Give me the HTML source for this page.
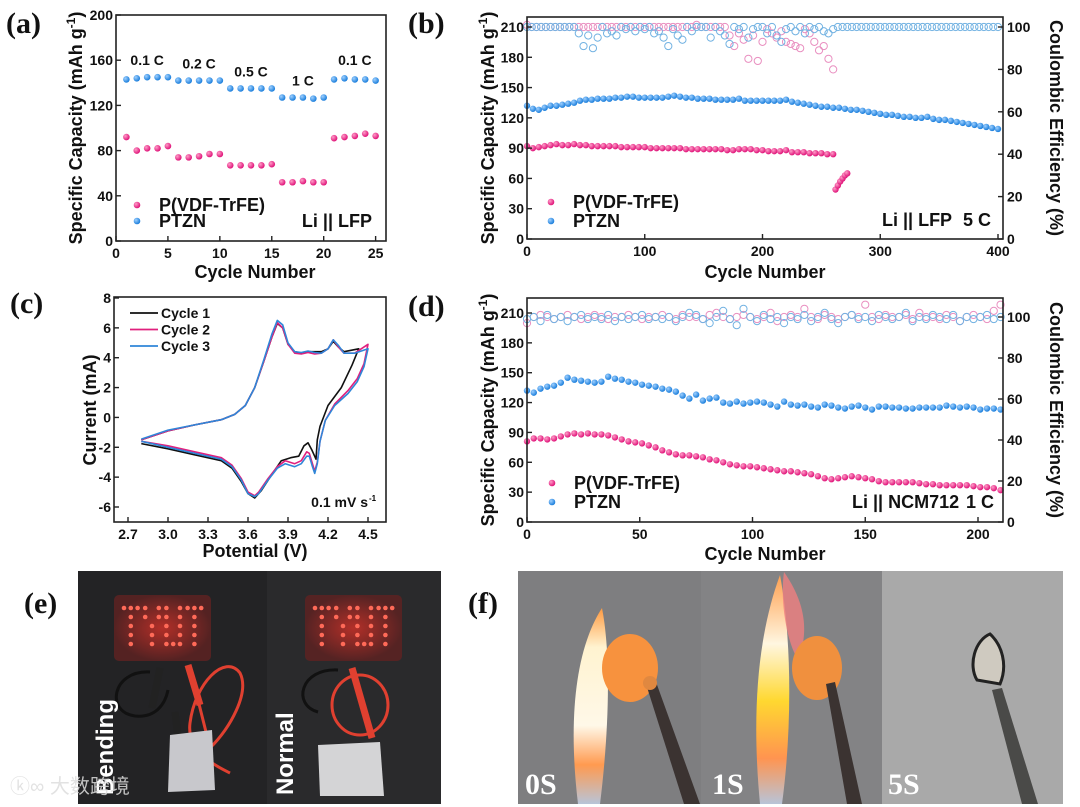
<!DOCTYPE html>
<html><head><meta charset="utf-8">
<style>
html,body{margin:0;padding:0;background:#fff;}
svg{display:block;font-family:"Liberation Sans",sans-serif;}
.tk{font-size:14px;font-weight:bold;fill:#111;}
.ttl{font-size:18px;font-weight:bold;fill:#111;}
.lab{font-family:"Liberation Serif",serif;font-size:30px;font-weight:bold;fill:#111;}
.ann{font-size:14px;font-weight:bold;fill:#111;}
</style></head>
<body>
<svg id="fig" width="1080" height="807" viewBox="0 0 1080 807">
<defs>
<radialGradient id="gp" cx="35%" cy="35%" r="65%"><stop offset="0" stop-color="#ff9cc8"/><stop offset="1" stop-color="#e0157a"/></radialGradient>
<radialGradient id="gb" cx="35%" cy="35%" r="65%"><stop offset="0" stop-color="#9fd0ff"/><stop offset="1" stop-color="#1c7fdc"/></radialGradient>
<linearGradient id="flame" x1="0" y1="0" x2="0" y2="1"><stop offset="0" stop-color="#ff9a40"/><stop offset="0.2" stop-color="#fff3d0"/><stop offset="0.6" stop-color="#fff8e8"/><stop offset="0.8" stop-color="#ff9a50"/><stop offset="1" stop-color="#b8c4d8"/></linearGradient>
<linearGradient id="flame2" x1="0" y1="0" x2="0" y2="1"><stop offset="0" stop-color="#ffa050"/><stop offset="0.3" stop-color="#fff6e0"/><stop offset="0.55" stop-color="#ffd830"/><stop offset="0.8" stop-color="#ff9450"/><stop offset="1" stop-color="#b8c4d8"/></linearGradient>
<radialGradient id="glow"><stop offset="0" stop-color="#c23028" stop-opacity="0.9"/><stop offset="1" stop-color="#5a2222" stop-opacity="0.9"/></radialGradient>
</defs>
<g id="charts"></g>
<text class="lab" x="6" y="33">(a)</text>
<text class="lab" x="408" y="33">(b)</text>
<text class="lab" x="10" y="313">(c)</text>
<text class="lab" x="408" y="316">(d)</text>
<text class="lab" x="24" y="613">(e)</text>
<text class="lab" x="468" y="613">(f)</text>

<!-- panel e photo -->
<g>
<rect x="78" y="571" width="363" height="233" fill="#232325"/>
<rect x="267" y="571" width="174" height="233" fill="#2a2a2c"/>
<rect x="114" y="595" width="97" height="66" rx="5" fill="url(#glow)"/>
<rect x="305" y="595" width="97" height="66" rx="5" fill="url(#glow)"/>
<g id="leds"></g>
<path d="M150 672 C112 670 105 712 135 716 C155 718 165 705 168 690" stroke="#111" stroke-width="3" fill="none"/>
<path d="M160 668 l-8 40" stroke="#222" stroke-width="7"/>
<path d="M175 712 l6 50" stroke="#222" stroke-width="7"/>
<path d="M190 668 l20 80 c20 -20 40 -55 30 -75 c-15 -20 -45 10 -50 50 c-4 30 30 45 40 50" stroke="#e04030" stroke-width="3" fill="none"/>
<path d="M188 665 l12 40" stroke="#e04030" stroke-width="7"/>
<polygon points="170,735 212,730 215,790 168,792" fill="#c8c8cc"/>
<path d="M338 670 C300 668 292 705 318 712" stroke="#111" stroke-width="3" fill="none"/>
<ellipse cx="360" cy="705" rx="28" ry="30" stroke="#e04030" stroke-width="3" fill="none"/>
<path d="M352 668 l20 70" stroke="#e04030" stroke-width="7"/>
<polygon points="318,745 380,742 384,796 320,796" fill="#d4d4d6"/>
<text x="0" y="0" transform="translate(113,795) rotate(-90)" font-size="24" font-weight="bold" fill="#fff">Bending</text>
<text x="0" y="0" transform="translate(293,795) rotate(-90)" font-size="24" font-weight="bold" fill="#fff">Normal</text>
<text x="10" y="793" font-family="'Liberation Sans','Noto Sans CJK SC',sans-serif" font-size="20" fill="#ddd" opacity="0.85">ⓚ∞ 大数跨境</text>
</g>

<!-- panel f photo -->
<g>
<rect x="518" y="571" width="183" height="233" fill="#7e7e80"/>
<rect x="701" y="571" width="181" height="233" fill="#838385"/>
<rect x="882" y="571" width="181" height="233" fill="#a9a9a9"/>
<path d="M578 804 C568 720 575 650 602 608 C612 660 608 740 600 804 Z" fill="url(#flame)"/>
<ellipse cx="630" cy="668" rx="28" ry="34" fill="#f7923e"/>
<polygon points="646,684 656,682 700,804 684,804" fill="#3b3331"/>
<circle cx="650" cy="683" r="7" fill="#e08840"/>
<path d="M760 804 C752 720 756 640 780 575 C792 640 792 730 782 804 Z" fill="url(#flame2)"/>
<path d="M784 572 C800 595 812 625 798 660 C786 640 780 600 784 572Z" fill="#f08080" opacity="0.8"/>
<ellipse cx="817" cy="668" rx="25" ry="32" fill="#f0903e"/>
<polygon points="826,684 835,682 862,804 847,804" fill="#3b3331"/>
<path d="M977 680 C968 665 975 640 990 634 C1002 645 1008 665 1000 684Z" fill="#cfcac0" stroke="#222" stroke-width="3"/>
<polygon points="992,690 1002,688 1038,804 1022,804" fill="#4a4a48"/>
<text x="525" y="794" font-family="'Liberation Serif',serif" font-size="30" font-weight="bold" fill="#fff">0S</text>
<text x="712" y="794" font-family="'Liberation Serif',serif" font-size="30" font-weight="bold" fill="#fff">1S</text>
<text x="888" y="794" font-family="'Liberation Serif',serif" font-size="30" font-weight="bold" fill="#fff">5S</text>
</g>
</svg>
<script>
// ---------- DATA ----------
const aCycles = [1,2,3,4,5,6,7,8,9,10,11,12,13,14,15,16,17,18,19,20,21,22,23,24,25];
const aPVDF = [92,80,82,82,84,74,74,75,77,77,67,67,67,67,68,52,52,53,52,52,91,92,93,95,93];
const aPTZN = [143,144,145,145,145,142,142,142,142,142,135,135,135,135,135,127,127,127,126,127,143,144,143,143,142];
const aRates = ["0.1 C","0.2 C","0.5 C","1 C","0.1 C"];
const aRateCycle = [3,8,13,18,23];
const aRateVal = [160,157,150,142,160];
const aXTicks = [0,5,10,15,20,25];
const aYTicks = [0,40,80,120,160,200];
const bPTZN = [132,129,128,130,132,132,133,134,135,137,138,138,139,139,139,140,140,141,141,140,140,140,140,140,141,142,141,140,140,139,139,139,138,138,138,138,139,137,137,137,137,137,137,137,138,136,135,134,133,132,131,131,130,130,129,128,128,127,126,125,124,123,123,122,121,121,120,120,121,119,118,118,117,116,115,114,113,112,111,110,109];
const bPVDF = [92,90,91,92,93,94,93,93,94,93,93,92,92,92,92,92,91,91,91,91,91,90,90,90,90,90,90,89,89,89,89,89,89,89,88,88,89,89,89,88,88,87,87,87,88,86,86,86,85,85,85,84,84];
const bPVDFTailCycles = [262,264,266,268,270,272];
const bPVDFTail = [49,53,57,60,63,65];
const bCEPTZN = [100,100,100,100,100,100,100,100,100,100,100,97,91,96,90,95,100,97,98,96,100,99,100,98,100,99,100,97,98,95,91,99,96,94,100,98,100,100,100,95,100,98,96,92,100,99,100,95,99,100,100,97,100,96,93,99,100,98,100,97,100,99,100,98,97,99,100,100,100,100,100,100,100,100,100,100,100,100,100,100,100,100,100,100,100,100,100,100,100,100,100,100,100,100,100,100,100,100,100,100,100];
const bCEPVDF = [101,100,100,100,100,100,100,100,100,100,100,100,100,100,100,100,100,100,100,100,100,100,100,100,100,100,100,100,100,100,100,100,100,100,100,100,101,100,100,100,100,100,100,96,91,97,94,85,96,84,93,99,97,95,98,93,92,91,90,99,97,93,89,91,85,80];
const bXTicks = [0,100,200,300,400];
const bYTicks = [0,30,60,90,120,150,180,210];
const bY2Ticks = [0,20,40,60,80,100];
const cCycle1 = [[2.8,-1.5],[3.0,-0.9],[3.2,-0.5],[3.4,-0.15],[3.5,0.2],[3.58,0.8],[3.65,2.0],[3.72,3.8],[3.78,5.4],[3.82,6.3],[3.86,6.0],[3.9,4.9],[3.95,4.4],[4.0,4.3],[4.05,4.4],[4.1,4.4],[4.15,4.4],[4.2,4.6],[4.24,5.1],[4.28,4.7],[4.32,4.4],[4.43,4.6],[4.38,3.5],[4.3,2.0],[4.2,0.8],[4.14,-0.6],[4.12,-1.5],[4.11,-2.8],[4.08,-2.2],[4.05,-1.7],[4.02,-1.9],[3.98,-2.6],[3.92,-2.7],[3.85,-2.9],[3.78,-3.8],[3.7,-4.9],[3.65,-5.4],[3.6,-5.1],[3.55,-4.3],[3.48,-3.4],[3.4,-2.9],[3.2,-2.5],[3.0,-2.1],[2.8,-1.75]];
const cCycle2 = [[2.8,-1.5],[3.0,-0.9],[3.2,-0.5],[3.4,-0.15],[3.5,0.2],[3.58,0.8],[3.65,2.0],[3.72,3.8],[3.78,5.4],[3.82,6.35],[3.86,6.0],[3.9,4.9],[3.95,4.3],[4.0,4.25],[4.05,4.35],[4.1,4.25],[4.15,4.3],[4.2,4.6],[4.24,5.2],[4.28,4.7],[4.32,4.3],[4.4,4.3],[4.5,4.9],[4.47,3.6],[4.42,2.6],[4.35,1.8],[4.25,0.9],[4.18,-0.2],[4.14,-1.6],[4.12,-3.0],[4.1,-3.6],[4.08,-3.0],[4.06,-2.4],[4.04,-2.3],[4.0,-2.9],[3.95,-3.1],[3.88,-2.9],[3.82,-3.3],[3.75,-4.1],[3.68,-5.0],[3.65,-5.25],[3.6,-5.0],[3.55,-4.1],[3.48,-3.2],[3.4,-2.7],[3.2,-2.3],[3.0,-1.9],[2.8,-1.6]];
const cCycle3 = [[2.8,-1.45],[3.0,-0.85],[3.2,-0.5],[3.4,-0.15],[3.5,0.2],[3.58,0.8],[3.65,2.0],[3.72,3.9],[3.78,5.6],[3.82,6.5],[3.86,6.2],[3.9,5.0],[3.95,4.4],[4.0,4.35],[4.05,4.45],[4.1,4.35],[4.15,4.3],[4.2,4.6],[4.24,5.2],[4.28,4.8],[4.32,4.3],[4.4,4.3],[4.5,4.6],[4.47,3.4],[4.42,2.4],[4.35,1.6],[4.25,0.8],[4.18,-0.2],[4.14,-1.6],[4.12,-3.1],[4.1,-3.75],[4.08,-3.2],[4.06,-2.6],[4.04,-2.6],[4.0,-3.1],[3.95,-3.3],[3.88,-3.1],[3.82,-3.4],[3.75,-4.2],[3.68,-5.1],[3.65,-5.3],[3.6,-5.1],[3.55,-4.2],[3.48,-3.3],[3.4,-2.8],[3.2,-2.4],[3.0,-2.0],[2.8,-1.6]];
const cXTicks = [2.7,3.0,3.3,3.6,3.9,4.2,4.5];
const cYTicks = [-6,-4,-2,0,2,4,6,8];
const dPTZN = [132,130,134,136,137,140,145,143,142,141,140,141,146,144,143,141,140,138,137,136,134,133,131,127,124,128,122,124,125,120,119,121,119,120,121,120,118,116,121,118,117,118,116,115,118,117,115,114,116,117,115,113,116,116,115,115,114,114,115,115,115,115,117,116,115,116,115,113,114,114,113];
const dPVDF = [81,84,84,83,84,86,88,89,88,89,88,88,87,85,83,81,80,79,77,75,72,70,68,67,67,66,65,63,62,60,58,57,56,56,55,54,53,52,51,51,50,49,48,46,44,43,44,45,46,45,44,43,41,40,40,40,40,40,39,38,38,37,37,37,37,37,36,35,35,34,32];
const dCEPTZN = [99,100,98,101,99,100,98,100,101,99,100,99,101,98,100,99,100,101,99,100,99,100,98,100,102,101,99,97,100,103,99,96,104,100,98,101,99,100,97,100,99,101,98,100,102,99,97,100,101,99,100,98,101,100,99,100,102,98,100,99,101,100,99,101,98,100,99,100,101,99,100];
const dCEPVDF = [97,100,101,100,99,100,101,100,99,100,101,100,99,100,100,101,100,99,100,100,101,100,99,101,100,100,99,101,102,100,99,100,101,100,99,100,102,98,100,101,100,104,100,99,101,100,99,100,101,100,106,100,99,101,100,100,101,99,102,100,100,99,101,100,98,100,101,100,99,103,106];
const dXTicks = [0,50,100,150,200];
const dYTicks = [0,30,60,90,120,150,180,210];
const dY2Ticks = [0,20,40,60,80,100];

// ---------- DRAW ----------
const NS = "http://www.w3.org/2000/svg";
const root = document.getElementById("charts");
function mk(tag, attrs, parent) {
  const e = document.createElementNS(NS, tag);
  for (const k in attrs) e.setAttribute(k, attrs[k]);
  (parent || root).appendChild(e);
  return e;
}
function txt(s, x, y, cls, anchor, parent) {
  const t = mk("text", {x: x, y: y, class: cls, "text-anchor": anchor || "start"}, parent);
  t.textContent = s;
  return t;
}
function scale(d0, d1, r0, r1) { return v => r0 + (v - d0) * (r1 - r0) / (d1 - d0); }
function frame(g, L, T, R, B) {
  const f = mk("rect", {x: L, y: T, width: R - L, height: B - T, fill: "none", stroke: "#222", "stroke-width": 1.6}, g);
  
  
}
function xTicks(g, ticks, X, B, fmt) {
  ticks.forEach(v => {
    mk("line", {x1: X(v), x2: X(v), y1: B, y2: B - 5, stroke: "#222", "stroke-width": 1.4}, g);
    const t = txt(fmt ? fmt(v) : v, X(v), B + 17, "tk", "middle", g);
    
    
  });
}
function yTicks(g, ticks, Y, L, side, fmt) {
  ticks.forEach(v => {
    const dx = side === "r" ? -5 : 5;
    mk("line", {x1: L, x2: L + dx, y1: Y(v), y2: Y(v), stroke: "#222", "stroke-width": 1.4}, g);
    const t = txt(fmt ? fmt(v) : v, side === "r" ? L + 4 : L - 3, Y(v) + 5, "tk", side === "r" ? "start" : "end", g);
    
    
  });
}
function ball(g, x, y, fill, r) { return mk("circle", {cx: x, cy: y, r: r || 3.3, fill: fill}, g); }
function hollow(g, x, y, col) { return mk("circle", {cx: x, cy: y, r: 3.6, fill: "none", stroke: col, "stroke-width": 1}, g); }
function yTitle(g, s, x, y, rot, name) {
  const t = mk("text", {x: 0, y: 0, class: "ttl", "text-anchor": "middle", transform: "translate(" + x + "," + y + ") rotate(" + rot + ")"}, g);
  t.textContent = s;
  
  
  return t;
}
function capTitle(g, x, y) {
  const t = mk("text", {x: 0, y: 0, class: "ttl", "text-anchor": "middle", transform: "translate(" + x + "," + y + ") rotate(-90)"}, g);
  t.textContent = "Specific Capacity (mAh g";
  const s = mk("tspan", {dy: -7, "font-size": 12}, t);
  s.textContent = "-1";
  const s2 = mk("tspan", {dy: 7}, t);
  s2.textContent = ")";
  
  
}
function legend(g, x, y, fill, label, name) {
  const lg = mk("g", {}, g);
  
  
  ball(lg, x, y, fill);
  txt(label, x + 22, y + 6, "ttl", "start", lg).setAttribute("font-size", "16");
}

// ----- panel a -----
(function () {
  const g = mk("g", {});
  
  
  const L = 116, R = 386, T = 15, B = 241;
  const X = scale(0, 26, L, R), Y = scale(0, 200, B, T);
  frame(g, L, T, R, B);
  xTicks(g, aXTicks, X, B);
  yTicks(g, aYTicks, Y, L, "l");
  aCycles.forEach((c, i) => {
    const p = ball(g, X(c), Y(aPVDF[i]), "url(#gp)");
    
    
    const b = ball(g, X(c), Y(aPTZN[i]), "url(#gb)");
    
    
  });
  aRates.forEach((r, i) => {
    const t = txt(r, X(aRateCycle[i]), Y(aRateVal[i]) + 5, "ann", "middle", g);
    
    
  });
  legend(g, 137, 205, "url(#gp)", "P(VDF-TrFE)", "legend-pvdf");
  legend(g, 137, 221, "url(#gb)", "PTZN", "legend-ptzn");
  txt("Li || LFP", 372, 227, "ttl", "end", g).setAttribute("font-size", "16");
  const xt = txt("Cycle Number", 255, 278, "ttl", "middle", g);
  
  
  capTitle(g, 82, 128);
})();

// ----- panel b -----
(function () {
  const g = mk("g", {});
  
  
  const L = 527, R = 1003, T = 17, B = 239;
  const X = scale(0, 400, L, 998), Y = scale(0, 210, B, 27), Y2 = scale(0, 100, B, 27);
  bCEPVDF.forEach((v, i) => { const c = hollow(g, X(i * 4), Y2(v), "#e98fc0");   });
  bCEPTZN.forEach((v, i) => { const c = hollow(g, X(i * 4), Y2(v), "#72b2e2");   });
  bPTZN.forEach((v, i) => { const c = ball(g, X(i * 5), Y(v), "url(#gb)", 3.2);   });
  bPVDF.forEach((v, i) => { const c = ball(g, X(i * 5), Y(v), "url(#gp)", 3.2);   });
  bPVDFTail.forEach((v, i) => { const c = ball(g, X(bPVDFTailCycles[i]), Y(v), "url(#gp)", 3.2);   });
  frame(g, L, T, R, B);
  xTicks(g, bXTicks, X, B);
  yTicks(g, bYTicks, Y, L, "l");
  yTicks(g, bY2Ticks, Y2, R, "r");
  legend(g, 551, 202, "url(#gp)", "P(VDF-TrFE)", "legend-pvdf");
  legend(g, 551, 221, "url(#gb)", "PTZN", "legend-ptzn");
  txt("Li || LFP", 882, 226, "ttl", "start", g).setAttribute("font-size", "16");
  txt("5 C", 963, 226, "ttl", "start", g).setAttribute("font-size", "16");
  const xt = txt("Cycle Number", 765, 278, "ttl", "middle", g);
  
  
  capTitle(g, 494, 128);
  yTitle(g, "Coulombic Efficiency (%)", 1050, 128, 90, 'y2-axis-title');
})();

// ----- panel c -----
(function () {
  const g = mk("g", {});
  
  
  const L = 114, R = 386, T = 297, B = 522;
  const X = scale(2.7, 4.5, 128, 368), Y = scale(-6, 8, 507, 298);
  frame(g, L, T, R, B);
  xTicks(g, cXTicks, X, B, v => v.toFixed(1));
  yTicks(g, cYTicks, Y, L, "l");
  const series = [[cCycle1, "#111"], [cCycle2, "#e0207e"], [cCycle3, "#2f86d8"]];
  const names = ["cv-cycle-1", "cv-cycle-2", "cv-cycle-3"];
  series.forEach((s, k) => {
    const d = s[0].map((p, i) => (i ? "L" : "M") + X(p[0]).toFixed(1) + " " + Y(p[1]).toFixed(1)).join(" ");
    const pth = mk("path", {d: d, fill: "none", stroke: s[1], "stroke-width": 1.6, "stroke-linejoin": "round"}, g);
    
    
    const ly = 313 + k * 16.5;
    const lg = mk("g", {}, g);
    
    
    mk("line", {x1: 130, x2: 158, y1: ly, y2: ly, stroke: s[1], "stroke-width": 1.8}, lg);
    txt("Cycle " + (k + 1), 161, ly + 5, "ann", "start", lg).setAttribute("font-size", "12");
  });
  txt("0.1 mV s", 368, 507, "ann", "end", g).setAttribute("font-size", "12");
  const sup = mk("text", {x: 369, y: 501, "font-size": 8, "font-weight": "bold"}, g);
  sup.textContent = "-1";
  const xt = txt("Potential (V)", 255, 557, "ttl", "middle", g);
  
  
  yTitle(g, "Current (mA)", 96, 410, -90, 'y-axis-title');
})();

// ----- panel d -----
(function () {
  const g = mk("g", {});
  
  
  const L = 527, R = 1003, T = 298, B = 522;
  const X = scale(0, 200, L, 978), Y = scale(0, 210, B, 313), Y2 = scale(0, 100, B, 317);
  dCEPVDF.forEach((v, i) => { const c = hollow(g, X(i * 3), Y2(v), "#e98fc0");   });
  dCEPTZN.forEach((v, i) => { const c = hollow(g, X(i * 3), Y2(v), "#72b2e2");   });
  dPTZN.forEach((v, i) => { const c = ball(g, X(i * 3), Y(v), "url(#gb)", 3.2);   });
  dPVDF.forEach((v, i) => { const c = ball(g, X(i * 3), Y(v), "url(#gp)", 3.2);   });
  frame(g, L, T, R, B);
  xTicks(g, dXTicks, X, B);
  yTicks(g, dYTicks, Y, L, "l");
  yTicks(g, dY2Ticks, Y2, R, "r");
  legend(g, 552, 483, "url(#gp)", "P(VDF-TrFE)", "legend-pvdf");
  legend(g, 552, 502, "url(#gb)", "PTZN", "legend-ptzn");
  txt("Li || NCM712", 852, 508, "ttl", "start", g).setAttribute("font-size", "16");
  txt("1 C", 966, 508, "ttl", "start", g).setAttribute("font-size", "16");
  const xt = txt("Cycle Number", 765, 560, "ttl", "middle", g);
  
  
  capTitle(g, 494, 410);
  yTitle(g, "Coulombic Efficiency (%)", 1050, 410, 90, 'y2-axis-title');
})();

// LED dots (decorative)
(function () {
  const lg = document.getElementById("leds");
  const tpls = [["111","010","010","010","010"],["101","101","010","010","010"],["101","101","101","101","111"],["111","010","010","010","010"]];
  [[124, 608], [315, 608]].forEach(o => {
    for (let r = 0; r < 5; r++) {
      for (let c = 0; c < 16; c++) {
        const letter = Math.floor(c / 4), col = c % 4;
        if (col === 3) continue;
        if (tpls[letter][r][col] !== "1") continue;
        const ci = mk("circle", {cx: o[0] + c * 5.3 + (col) * 1.5, cy: o[1] + r * 9, r: 2.3, fill: "#ff6a58"}, lg);
        
        
      }
    }
  });
})();
</script>
</body></html>
